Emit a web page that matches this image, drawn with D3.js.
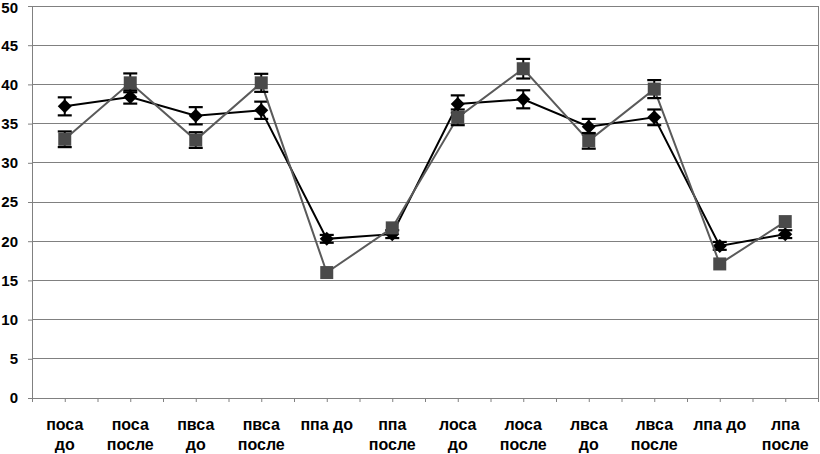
<!DOCTYPE html>
<html><head><meta charset="utf-8">
<script src="https://cdn.jsdelivr.net/npm/d3@7"></script>
<style>body{margin:0;background:#fff}svg{display:block}</style>
</head><body>
<svg id="c" width="820" height="454"></svg>
<script>
const categories = ["поса\nдо","поса\nпосле","пвса\nдо","пвса\nпосле","ппа до","ппа\nпосле","лоса\nдо","лоса\nпосле","лвса\nдо","лвса\nпосле","лпа до","лпа\nпосле"];
const seriesDiamond = [37.2,38.4,36.0,36.7,20.3,20.9,37.5,38.1,34.6,35.8,19.4,20.9];
const errDiamond    = [1.15,0.85,1.1,1.1,0.5,0.5,1.1,1.15,1.0,1.0,0.5,0.5];
const seriesSquare  = [33.0,40.2,32.9,40.2,16.0,21.7,35.8,42.0,32.8,39.4,17.1,22.5];
const errSquare     = [1.0,1.2,1.0,1.15,0,0,1.0,1.25,1.0,1.15,0,0];
const yTicks = [0,5,10,15,20,25,30,35,40,45,50];

const svg = d3.select("#c");
const L = 32, R = 818, T = 6, B = 398;
const x = d3.scaleBand().domain(d3.range(categories.length)).range([L, R]).padding(0);
const y = d3.scaleLinear().domain([0, 50]).range([B, T]);
const cx = i => x(i) + x.bandwidth() / 2;

// gridlines
svg.append("g").selectAll("line").data(yTicks.filter(d => d > 0)).join("line")
  .attr("x1", L).attr("x2", R).attr("y1", d => y(d)).attr("y2", d => y(d))
  .attr("stroke", "#808080").attr("stroke-width", 1).attr("shape-rendering","crispEdges");
// right border
svg.append("line").attr("x1", R).attr("x2", R).attr("y1", T).attr("y2", B)
  .attr("stroke", "#808080").attr("shape-rendering","crispEdges");

// y axis
const yAxis = d3.axisLeft(y).tickValues(yTicks).tickSize(4).tickPadding(10);
const ga = svg.append("g").attr("transform", `translate(${L},0)`).call(yAxis);
ga.select(".domain").attr("stroke", "#808080");
ga.selectAll(".tick line").attr("stroke", "#808080");
ga.selectAll("text").attr("font-family", "Liberation Sans, Arial, sans-serif")
  .attr("font-weight", "bold").attr("font-size", 15).attr("fill", "#000");
ga.selectAll(".tick").filter(d => d === 50).select("text").attr("dy", "0.40em");

// x axis with ticks at every half category
const xAxis = d3.axisBottom(d3.scaleLinear().domain([0, categories.length]).range([L, R]))
  .tickValues(d3.range(0, categories.length + 0.01, 0.5)).tickSize(4).tickFormat("");
const gx = svg.append("g").attr("transform", `translate(0,${B})`).call(xAxis);
gx.select(".domain").attr("stroke", "#808080").attr("d", `M${L},0.5H${R}`);
gx.selectAll(".tick line").attr("stroke", "#808080");

// category labels
const lab = svg.append("g").selectAll("text").data(categories).join("text")
  .attr("x", (d, i) => cx(i)).attr("y", 430)
  .attr("text-anchor", "middle")
  .attr("font-family", "Liberation Sans, Arial, sans-serif")
  .attr("font-weight", "bold").attr("font-size", 16).attr("fill", "#000");
lab.each(function(d) {
  const lines = d.split("\n");
  d3.select(this).selectAll("tspan").data(lines).join("tspan")
    .attr("x", d3.select(this).attr("x")).attr("dy", (t, k) => k === 0 ? 0 : 20).text(t => t);
});

function drawSeries(vals, errs, color, marker, markerColor) {
  const g = svg.append("g");
  g.append("path").datum(vals)
    .attr("d", d3.line().x((d, i) => cx(i)).y(d => y(d)))
    .attr("fill", "none").attr("stroke", color).attr("stroke-width", 2);
  const eb = g.append("g");
  vals.forEach((v, i) => {
    const e = errs[i];
    if (e <= 0) return;
    const x0 = cx(i);
    eb.append("line").attr("x1", x0).attr("x2", x0).attr("y1", y(v + e)).attr("y2", y(v - e))
      .attr("stroke", "#000").attr("stroke-width", 2);
    [v + e, v - e].forEach(w => eb.append("line").attr("x1", x0 - 7).attr("x2", x0 + 7)
      .attr("y1", y(w)).attr("y2", y(w)).attr("stroke", "#000").attr("stroke-width", 2.2));
  });
  g.append("g").selectAll("path").data(vals).join("path")
    .attr("transform", (d, i) => `translate(${cx(i)},${y(d)})`)
    .attr("d", marker).attr("fill", markerColor);
}
drawSeries(seriesDiamond, errDiamond, "#000", "M0,-7L7,0L0,7L-7,0Z", "#000");
drawSeries(seriesSquare, errSquare, "#5a5a5a", "M-6.5,-6.5H6.5V6.5H-6.5Z", "#4a4a4a");
</script>
</body></html>
